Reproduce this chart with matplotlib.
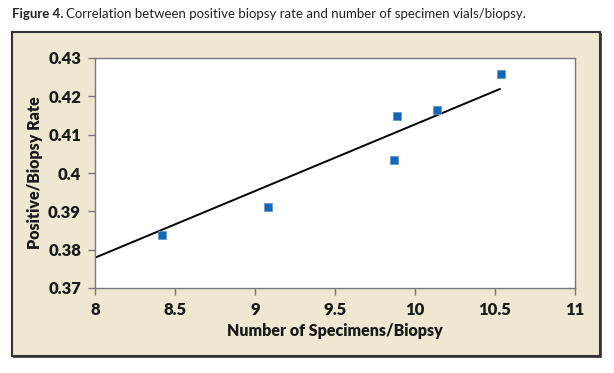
import numpy as np
import matplotlib.pyplot as plt
from matplotlib.patches import Rectangle

plt.rcParams['font.family'] = ['Lato', 'DejaVu Sans']

# data
specimens = [8.42, 9.08, 9.87, 9.89, 10.14, 10.535]
pos_rate = [0.3838, 0.3912, 0.4034, 0.4150, 0.4164, 0.4259]
trend_x = [8.0, 10.53]
trend_y = [0.3779, 0.4219]
xticks = [8, 8.5, 9, 9.5, 10, 10.5, 11]
xtick_labels = ['8', '8.5', '9', '9.5', '10', '10.5', '11']
yticks = [0.37, 0.38, 0.39, 0.40, 0.41, 0.42, 0.43]
ytick_labels = ['0.37', '0.38', '0.39', '0.4', '0.41', '0.42', '0.43']

W, H = 614, 373
fig = plt.figure(figsize=(W / 100, H / 100), dpi=100)
fig.patch.set_facecolor('white')

beige = '#EEE8D2'
# panel with border and a little shadow
fig.patches.append(Rectangle((13 / W, 1 - 358 / H), 589 / W, 325 / H,
                             transform=fig.transFigure, facecolor='#555555',
                             edgecolor='none', zorder=0))
fig.patches.append(Rectangle((12 / W, 1 - 356 / H), 588 / W, 324 / H,
                             transform=fig.transFigure, facecolor=beige,
                             edgecolor='#333333', linewidth=1.5, zorder=1))

t1 = fig.text(12 / W, 1 - 14 / H, 'Figure 4.', fontsize=9.5, fontweight='bold',
              va='center', ha='left', color='#222222')
fig.canvas.draw()
bb = t1.get_window_extent()
fig.text((bb.x1 + 3) / W, 1 - 14 / H,
         'Correlation between positive biopsy rate and number of specimen vials/biopsy.',
         fontsize=9.5, va='center', ha='left', color='#222222')

ax = fig.add_axes([95 / W, 1 - 288 / H, 480 / W, 230 / H])
ax.set_facecolor('white')
ax.set_zorder(2)

ax.plot(trend_x, trend_y, color='black', linewidth=1.4, zorder=2)
ax.plot(specimens, pos_rate, 's', color='#1467B5', markersize=6,
        markeredgecolor='#5D9AD3', markeredgewidth=0.6, zorder=3)

ax.set_xlim(8, 11)
ax.set_ylim(0.37, 0.43)
ax.set_xticks(xticks)
ax.set_xticklabels(xtick_labels)
ax.set_yticks(yticks)
ax.set_yticklabels(ytick_labels)

for s in ax.spines.values():
    s.set_color('#777777')
    s.set_linewidth(1.0)

ax.tick_params(direction='out', length=5, width=1, color='#777777',
               labelsize=12, labelcolor='#1a1a1a', pad=5)
for lab in ax.get_xticklabels() + ax.get_yticklabels():
    lab.set_fontweight('heavy')

ax.set_xlabel('Number of Specimens/Biopsy', fontsize=11.5, fontweight='heavy',
              color='#1a1a1a', labelpad=4)
ax.set_ylabel('Positive/Biopsy Rate', fontsize=11.5, fontweight='heavy',
              color='#1a1a1a')
ax.yaxis.set_label_coords(-0.108, 0.5)

plt.savefig('out.png', dpi=100)
